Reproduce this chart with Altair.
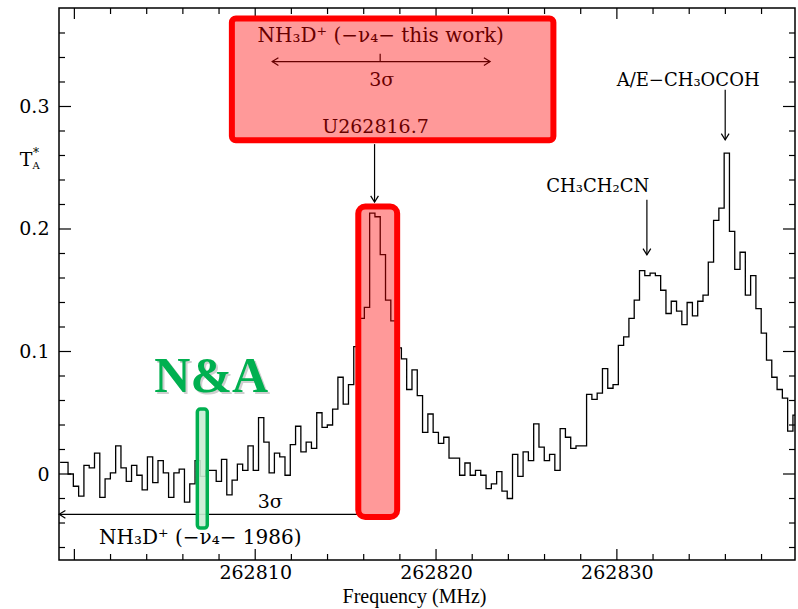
import altair as alt
import numpy as np
import pandas as pd

# ---------------------------------------------------------------------------
# Spectrum: antenna temperature per channel (K), uniform channel grid
# ---------------------------------------------------------------------------
FREQ_START = 262799.065   # MHz, lower edge of the first channel
CHAN_WIDTH = 0.2926       # MHz

ta_values = [
    0.0095, 0.0095, 0.000, -0.010, -0.018, 0.007, 0.005, 0.017, -0.019, -0.004,
    0.001, 0.023, 0.005, -0.006, 0.007, -0.001, -0.013, 0.014, -0.007, 0.011,
    0.001, -0.019, 0.001, 0.004, -0.023, -0.008, 0.011, -0.002, 0.003, 0.003,
    -0.006, 0.012, -0.017, -0.005, 0.008, 0.003, 0.023, 0.003, 0.046, 0.026,
    0.001, 0.017, 0.014, -0.001, 0.024, 0.039, 0.018, 0.026, 0.021, 0.050,
    0.038, 0.040, 0.053, 0.079, 0.057, 0.073, 0.104, 0.127, 0.136, 0.213,
    0.210, 0.179, 0.142, 0.125, 0.103, 0.094, 0.069, 0.085, 0.064, 0.034,
    0.049, 0.034, 0.025, 0.030, 0.013, 0.013, -0.001, 0.009, -0.001, 0.003,
    -0.001, -0.012, -0.008, 0.002, -0.014, -0.020, 0.016, -0.002, 0.018, 0.011,
    0.041, 0.022, 0.011, 0.016, 0.003, 0.037, 0.030, 0.021, 0.023, 0.023,
    0.065, 0.061, 0.066, 0.086, 0.070, 0.073, 0.105, 0.112, 0.127, 0.142,
    0.166, 0.162, 0.164, 0.162, 0.150, 0.131, 0.141, 0.133, 0.122, 0.140,
    0.129, 0.141, 0.146, 0.173, 0.207, 0.217, 0.262, 0.198, 0.167, 0.181,
    0.146, 0.162, 0.135, 0.115, 0.093, 0.079, 0.069, 0.062, 0.035, 0.048,
]

# Axis ticks and labels
x_label_values = [262810, 262820, 262830]
x_major_ticks = [262800, 262810, 262820, 262830]
x_minor_ticks = [262802, 262804, 262806, 262808, 262812, 262814, 262816, 262818,
                 262822, 262824, 262826, 262828, 262832, 262834, 262836, 262838]
y_label_values = [0, 0.1, 0.2, 0.3]
y_major_ticks = [0, 0.1, 0.2, 0.3]
y_minor_ticks = [-0.06, -0.04, -0.02, 0.02, 0.04, 0.06, 0.08, 0.12, 0.14, 0.16,
                 0.18, 0.22, 0.24, 0.26, 0.28, 0.32, 0.34, 0.36]

W, H = 736, 552
X_DOMAIN = [262799.15, 262839.85]
Y_DOMAIN = [-0.0702, 0.3804]
xs = alt.Scale(domain=X_DOMAIN, nice=False, zero=False)
ys = alt.Scale(domain=Y_DOMAIN, nice=False, zero=False)

GREEN = "#00B050"
RED = "#FF0000"
SERIF = "DejaVu Serif"
BOLD_SERIF = "Liberation Serif"

# One axis definition per channel, shared by every layer so they merge cleanly
AX = alt.Axis(
    values=x_label_values, format="d", ticks=False, domain=False, grid=False,
    labelFont=SERIF, labelFontSize=19, labelColor="black", labelPadding=3,
    labelFlush=False, labelOverlap=False,
    title="Frequency (MHz)", titleFont="Liberation Serif", titleFontSize=20,
    titleFontWeight="normal", titleColor="black", titleX=355, titleY=42,
    titleBaseline="alphabetic", titleAlign="center")
AY = alt.Axis(
    values=y_label_values,
    labelExpr="datum.value == 0 ? '0' : format(datum.value, '.1f')",
    ticks=False, domain=False, grid=False, labelFont=SERIF, labelFontSize=19,
    labelColor="black", labelPadding=10, labelFlush=False, labelOverlap=False,
    title=None)


def X(field):
    return alt.X(field, type="quantitative", scale=xs, axis=AX)


def Y(field):
    return alt.Y(field, type="quantitative", scale=ys, axis=AY)


freq = FREQ_START + (np.arange(len(ta_values)) + 0.5) * CHAN_WIDTH
spec = pd.DataFrame({"freq": freq, "ta": ta_values})

spectrum = alt.Chart(spec).mark_line(
    interpolate="step", color="black", strokeWidth=1.3, clip=True
).encode(x=X("freq"), y=Y("ta"))


def xticks(values, length, side):
    df = pd.DataFrame({"freq": values})
    y0, y1 = (H, H - length) if side == "bottom" else (0, length)
    return alt.Chart(df).mark_rule(color="black", strokeWidth=1.2).encode(
        x=X("freq"), y=alt.value(y0), y2=alt.value(y1))


def yticks(values, length, side):
    df = pd.DataFrame({"ta": values})
    x0, x1 = (0, length) if side == "left" else (W - length, W)
    return alt.Chart(df).mark_rule(color="black", strokeWidth=1.2).encode(
        y=Y("ta"), x=alt.value(x0), x2=alt.value(x1))


ticks = [
    xticks(x_major_ticks, 11, "bottom"), xticks(x_minor_ticks, 6, "bottom"),
    xticks(x_major_ticks, 11, "top"), xticks(x_minor_ticks, 6, "top"),
    yticks(y_major_ticks, 12, "left"), yticks(y_minor_ticks, 6, "left"),
    yticks(y_major_ticks, 12, "right"), yticks(y_minor_ticks, 6, "right"),
]


def label(text, f, t, size, color="black", font=SERIF, weight="normal",
          dx=0, dy=0, opacity=1.0, align="center"):
    df = pd.DataFrame({"freq": [f], "ta": [t], "s": [text]})
    return alt.Chart(df).mark_text(
        fontSize=size, font=font, fontWeight=weight, color=color, align=align,
        baseline="middle", dx=dx, dy=dy, opacity=opacity
    ).encode(x=X("freq"), y=Y("ta"), text="s:N")


def segment(f1, t1, f2, t2, width=1.2):
    df = pd.DataFrame({"freq": [f1], "ta": [t1], "f2": [f2], "t2": [t2]})
    return alt.Chart(df).mark_rule(color="black", strokeWidth=width).encode(
        x=X("freq"), y=Y("ta"), x2="f2:Q", y2="t2:Q")


HEAD_DOWN = "M -1 -1.6 L 0 0 L 1 -1.6"
HEAD_LEFT = "M 1.6 -1 L 0 0 L 1.6 1"
HEAD_RIGHT = "M -1.6 -1 L 0 0 L -1.6 1"


def head(f, t, shape):
    df = pd.DataFrame({"freq": [f], "ta": [t]})
    return alt.Chart(df).mark_point(
        shape=shape, filled=False, size=60, color="black", strokeWidth=1.2, opacity=1
    ).encode(x=X("freq"), y=Y("ta"))


def box(f1, t1, f2, t2, fill, fill_opacity, stroke, stroke_width, radius):
    df = pd.DataFrame({"freq": [f1], "ta": [t1], "f2": [f2], "t2": [t2]})
    return alt.Chart(df).mark_rect(
        fill=fill, fillOpacity=fill_opacity, stroke=stroke, strokeWidth=stroke_width,
        cornerRadius=radius
    ).encode(x=X("freq"), y=Y("ta"), x2="f2:Q", y2="t2:Q")


# Line identifications and the 3-sigma frequency ranges
annotations = [
    label("NH₃D⁺ (−ν₄− this work)", 262816.94, 0.3577, 20),
    segment(262810.94, 0.3367, 262822.99, 0.3367),
    head(262810.94, 0.3367, HEAD_LEFT),
    head(262822.99, 0.3367, HEAD_RIGHT),
    segment(262816.91, 0.3430, 262816.91, 0.3367),
    label("3σ", 262817.0, 0.3218, 19),
    label("U262816.7", 262816.65, 0.2830, 19),
    segment(262816.6, 0.2693, 262816.6, 0.2220),
    head(262816.6, 0.2220, HEAD_DOWN),
    segment(262799.16, -0.0329, 262815.70, -0.0329),
    head(262799.16, -0.0329, HEAD_LEFT),
    label("3σ", 262810.83, -0.0229, 19),
    label("NH₃D⁺ (−ν₄− 1986)", 262806.96, -0.0519, 20),
    label("CH₃CH₂CN", 262828.94, 0.2344, 18),
    segment(262831.66, 0.2238, 262831.66, 0.1789),
    head(262831.66, 0.1789, HEAD_DOWN),
    label("A/E−CH₃OCOH", 262833.94, 0.3210, 18),
    segment(262835.99, 0.3136, 262835.99, 0.2728),
    head(262835.99, 0.2728, HEAD_DOWN),
]

# Highlight boxes drawn over the spectrum
highlights = [
    box(262808.71, 0.2724, 262826.49, 0.3718, RED, 0.4, RED, 6, 4),
    box(262815.70, -0.0351, 262817.85, 0.2184, RED, 0.4, RED, 6, 7),
    box(262806.80, -0.0441, 262807.35, 0.0530, "#c9edd4", 0.9, GREEN, 3.5, 3),
    label("N&A", 262807.57, 0.0792, 50, color="#888888", font=BOLD_SERIF,
          weight="bold", dx=2, dy=2, opacity=0.4),
    label("N&A", 262807.57, 0.0792, 50, color=GREEN, font=BOLD_SERIF, weight="bold"),
]

# Y-axis title T*_A
ytitle_df = pd.DataFrame({"s": ["T"]})
ytitle = [
    alt.Chart(ytitle_df).mark_text(fontSize=19, font=SERIF, color="black",
                                    align="center", baseline="middle").encode(
        x=alt.value(-33), y=alt.value(152), text=alt.value("T")),
    alt.Chart(ytitle_df).mark_text(fontSize=12, font=SERIF, color="black",
                                    align="center", baseline="middle").encode(
        x=alt.value(-23), y=alt.value(145), text=alt.value("*")),
    alt.Chart(ytitle_df).mark_text(fontSize=10, font=SERIF, color="black",
                                    align="center", baseline="middle").encode(
        x=alt.value(-23), y=alt.value(158), text=alt.value("A")),
]

chart = alt.layer(
    spectrum, *ticks, *annotations, *highlights, *ytitle
).properties(
    width=W, height=H,
    autosize=alt.AutoSizeParams(type="none"),
    padding={"left": 59, "top": 8, "right": 3, "bottom": 49},
    background="white",
).configure_view(stroke="black", strokeWidth=1.5)

chart.save("out.html", embed_options={"renderer": "svg", "actions": False})
